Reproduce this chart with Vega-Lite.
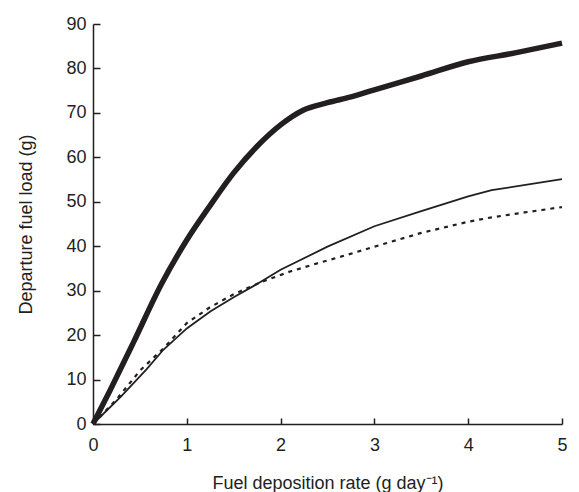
{
  "$schema": "https://vega.github.io/schema/vega-lite/v6.json",
  "autosize": "none",
  "width": 469,
  "height": 400,
  "padding": {"left": 93, "top": 24, "right": 17, "bottom": 68},
  "background": "white",
  "config": {
    "view": {"stroke": null},
    "font": "Liberation Sans",
    "axis": {
      "domainColor": "#231f20",
      "tickColor": "#231f20",
      "labelColor": "#231f20",
      "titleColor": "#231f20",
      "grid": false,
      "labelFont": "Liberation Sans",
      "titleFont": "Liberation Sans",
      "labelFontSize": 18,
      "titleFontSize": 18,
      "titleFontWeight": "normal",
      "domainWidth": 1.5,
      "tickWidth": 1.5
    }
  },
  "data": {
    "values": [
      {"series": "thick", "x": 0, "y": 0},
      {"series": "thick", "x": 0.18, "y": 7.5},
      {"series": "thick", "x": 0.43, "y": 18.3},
      {"series": "thick", "x": 0.73, "y": 31.5},
      {"series": "thick", "x": 1.0, "y": 41.4},
      {"series": "thick", "x": 1.25, "y": 49.2},
      {"series": "thick", "x": 1.5, "y": 56.5},
      {"series": "thick", "x": 1.75, "y": 62.5},
      {"series": "thick", "x": 2.0, "y": 67.3},
      {"series": "thick", "x": 2.24, "y": 70.6},
      {"series": "thick", "x": 2.5, "y": 72.3},
      {"series": "thick", "x": 2.75, "y": 73.6},
      {"series": "thick", "x": 3.0, "y": 75.2},
      {"series": "thick", "x": 3.5, "y": 78.3},
      {"series": "thick", "x": 4.0, "y": 81.5},
      {"series": "thick", "x": 4.5, "y": 83.5},
      {"series": "thick", "x": 5.0, "y": 85.7},
      {"series": "thin", "x": 0, "y": 0},
      {"series": "thin", "x": 0.3, "y": 6.2},
      {"series": "thin", "x": 0.57, "y": 12.3},
      {"series": "thin", "x": 0.75, "y": 16.7},
      {"series": "thin", "x": 1.0, "y": 21.5},
      {"series": "thin", "x": 1.25, "y": 25.3},
      {"series": "thin", "x": 1.5, "y": 28.5},
      {"series": "thin", "x": 1.75, "y": 31.5},
      {"series": "thin", "x": 2.0, "y": 34.7},
      {"series": "thin", "x": 2.5, "y": 39.9},
      {"series": "thin", "x": 3.0, "y": 44.5},
      {"series": "thin", "x": 3.5, "y": 47.9},
      {"series": "thin", "x": 4.0, "y": 51.2},
      {"series": "thin", "x": 4.25, "y": 52.6},
      {"series": "thin", "x": 5.0, "y": 55.1},
      {"series": "dotted", "x": 0, "y": 0},
      {"series": "dotted", "x": 0.25, "y": 5.5},
      {"series": "dotted", "x": 0.5, "y": 12},
      {"series": "dotted", "x": 0.75, "y": 17},
      {"series": "dotted", "x": 1.0, "y": 22.7},
      {"series": "dotted", "x": 1.25, "y": 26.3},
      {"series": "dotted", "x": 1.5, "y": 29.2},
      {"series": "dotted", "x": 1.8, "y": 32},
      {"series": "dotted", "x": 2.1, "y": 34.3},
      {"series": "dotted", "x": 2.4, "y": 36.2},
      {"series": "dotted", "x": 2.7, "y": 38},
      {"series": "dotted", "x": 3.0, "y": 39.9},
      {"series": "dotted", "x": 3.5, "y": 43},
      {"series": "dotted", "x": 4.0, "y": 45.5},
      {"series": "dotted", "x": 4.25, "y": 46.5},
      {"series": "dotted", "x": 4.6, "y": 47.6},
      {"series": "dotted", "x": 5.0, "y": 48.8}
    ]
  },
  "encoding": {
    "x": {
      "field": "x", "type": "quantitative",
      "scale": {"domain": [0, 5], "nice": false, "zero": true},
      "axis": {"values": [0, 1, 2, 3, 4, 5], "title": "Fuel deposition rate (g day⁻¹)", "tickSize": -6, "labelPadding": 18, "titlePadding": 20, "labelFlush": false}
    },
    "y": {
      "field": "y", "type": "quantitative",
      "scale": {"domain": [0, 90], "nice": false},
      "axis": {"values": [0, 10, 20, 30, 40, 50, 60, 70, 80, 90], "title": "Departure fuel load (g)", "tickSize": -7, "labelPadding": 14, "titlePadding": 30, "labelFlush": false}
    }
  },
  "layer": [
    {
      "transform": [{"filter": "datum.series === 'dotted'"}],
      "mark": {"type": "line", "color": "#231f20", "strokeWidth": 2.2, "strokeDash": [4, 5]}
    },
    {
      "transform": [{"filter": "datum.series === 'thin'"}],
      "mark": {"type": "line", "color": "#231f20", "strokeWidth": 1.8}
    },
    {
      "transform": [{"filter": "datum.series === 'thick'"}],
      "mark": {"type": "line", "color": "#231f20", "strokeWidth": 5.5, "interpolate": "monotone"}
    }
  ]
}
